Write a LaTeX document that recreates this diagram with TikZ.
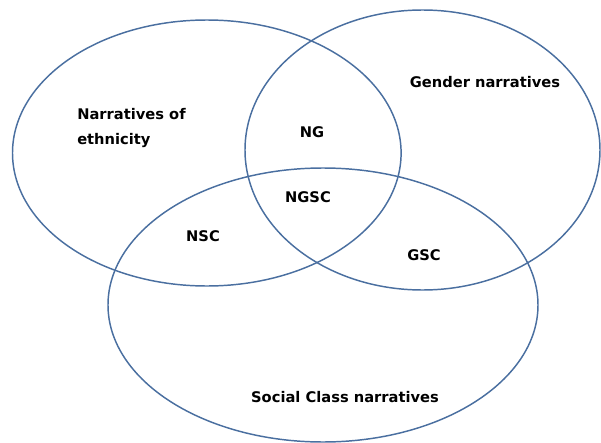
\documentclass[tikz,border=0pt]{standalone}
\usepackage{fontspec}
\setmainfont{DejaVu Sans}
\definecolor{ring}{HTML}{4A6FA0}
\begin{document}
\begin{tikzpicture}[x=0.75pt,y=-0.75pt,
  ring/.style={draw=ring,line width=1.1pt},
  lbl/.style={inner sep=0pt,font=\fontsize{11}{18.75}\selectfont\bfseries}]
\useasboundingbox (0,0) rectangle (601,443);
\draw[ring] (206.8,153) ellipse [x radius=194.3, y radius=133];
\draw[ring] (422.5,150) ellipse [x radius=177.5, y radius=140];
\draw[ring] (323,305) ellipse [x radius=215, y radius=137];
\node[lbl,anchor=base west,align=left] (eth) at (77,119) {Narratives of};
\node[lbl,anchor=base west] (eth2) at (77,144) {ethnicity};
\node[lbl,anchor=base] (gen) at (485,87) {Gender narratives};
\node[lbl,anchor=base] (ng) at (312,137) {NG};
\node[lbl,anchor=base] (ngsc) at (308,202) {NGSC};
\node[lbl,anchor=base] (nsc) at (203,241) {NSC};
\node[lbl,anchor=base] (gsc) at (424,260) {GSC};
\node[lbl,anchor=base] (soc) at (345,402) {Social Class narratives};
\end{tikzpicture}
\end{document}
